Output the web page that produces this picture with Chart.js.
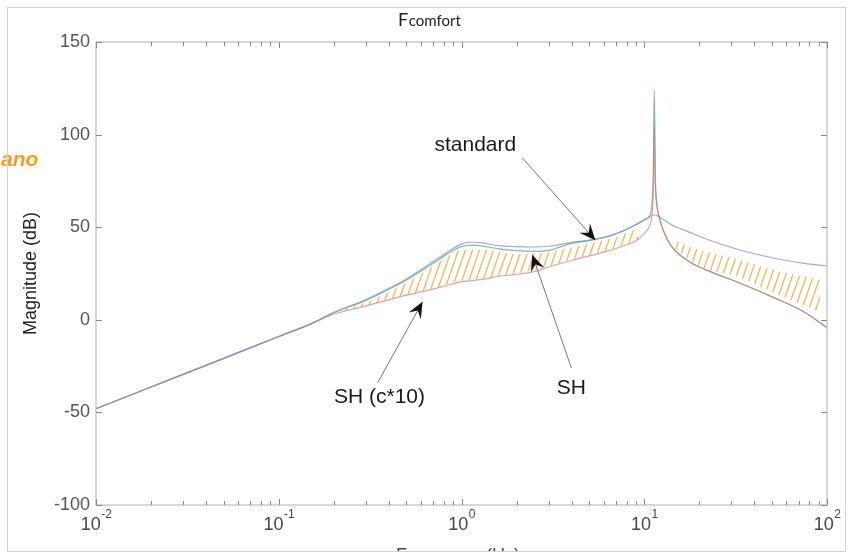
<!DOCTYPE html>
<html>
<head>
<meta charset="utf-8">
<script src="https://cdn.jsdelivr.net/npm/chart.js@4.4.1/dist/chart.umd.min.js"></script>
<style>
  html, body { margin: 0; padding: 0; background: #fff; }
  #wrap { width: 851px; height: 558px; }
</style>
</head>
<body>
<div id="wrap"><canvas id="c" width="851" height="558"></canvas></div>
<script>
// frequency points (Hz) shared by the three curves
const freq = [0.01, 0.02, 0.05, 0.1, 0.15, 0.2, 0.3, 0.4, 0.5, 0.7, 0.85, 1.0, 1.15, 1.3, 1.6, 2.0, 2.5, 3.0, 4.0, 5.0,
              6.0, 7.0, 8.0, 9.0, 10, 10.6, 11, 11.2, 11.35, 11.5, 11.7, 12.1, 12.8, 14, 17.5, 22, 33, 50, 75, 100];
const standardDb = [-48, -36.3, -20.8, -9, -2.2, 4, 11, 17, 22, 31.5, 37, 41, 42, 41.5, 40, 39.5, 39.3, 39.7, 41.8, 43,
                    44.5, 46.5, 49, 51.5, 54, 55.5, 56.3, 56.6, 56.7, 56.6, 56.4, 55.6, 54, 51.5, 47.5, 43.5, 37.8, 33.5, 30.5, 29];
const shDb = [-48, -36.3, -20.8, -9, -2.2, 3.8, 10.5, 16.5, 21.5, 30.5, 36, 39.5, 40.3, 39.8, 38.3, 37.3, 37, 37.5, 41.3, 42.8,
              44.3, 46.3, 48.8, 51.3, 53.8, 55.5, 62, 78, 124, 78, 64, 55, 47.5, 40, 31.6, 26.8, 20, 12.4, 4.2, -4.3];
const shC10Db = [-48, -36.3, -20.8, -9, -2.2, 3, 7.5, 10.8, 13.3, 16.6, 18.8, 20.5, 21.2, 21.8, 23.5, 24.5, 26, 28.5, 32, 34.5,
                 36.5, 38.5, 40.5, 42.5, 46.5, 50, 56, 68, 105, 72, 62, 55, 47.5, 40, 31.6, 26.8, 20, 12.4, 4.2, -4.3];

// hand-drawn hatching (two zones)
const hatchFreqL = [0.23, 0.3, 0.4, 0.5, 0.7, 1.0, 1.3, 2.0, 3.0, 4.0, 5.0, 6.0, 7.0, 8.0, 9.3];
const hatchTopL  = [6, 9.5, 15, 20, 29, 37.5, 38, 35.5, 36.5, 39, 41.5, 43, 44.5, 47, 49.5];
const hatchBotL  = [5, 7.5, 11, 13.5, 17, 21, 22.3, 25, 29, 32.5, 35, 37, 39, 41, 43.5];
const hatchFreqR = [14.5, 20, 33, 50, 70, 92];
const hatchTopR  = [43, 38, 32.5, 27, 24, 21.5];
const hatchBotR  = [39, 29, 23, 15, 9, 4];

// axes
const yTicks = [-100, -50, 0, 50, 100, 150];
const xDecades = [-2, -1, 0, 1, 2];
const xMinorMult = [2, 3, 4, 5, 6, 7, 8, 9];

// annotations: label, text position, arrow tail, arrow tip (Hz, dB)
const annLabels = ['standard', 'SH', 'SH (c*10)'];
const annTextF  = [1.19, 3.99, 0.356];
const annTextDb = [94.5, -36.7, -41.6];
const annTailF  = [2.15, 3.99, 0.3475];
const annTailDb = [87.5, -25.9, -34];
const annTipF   = [5.4, 2.44, 0.612];
const annTipDb  = [43.0, 35.1, 9.7];

const FONT = '"Liberation Sans", Arial, sans-serif';

function pts(xs, ys) { return xs.map((f, i) => ({ x: f, y: ys[i] })); }

const canvas = document.getElementById('c');
const mainCtx = canvas.getContext('2d');

function makeHatch() {
    const c = document.createElement('canvas');
    c.width = 7; c.height = 20;
    const g = c.getContext('2d');
    g.strokeStyle = 'rgba(240,160,40,0.78)';
    g.lineWidth = 1.3;
    [-7, 0, 7].forEach(dx => {
        g.beginPath(); g.moveTo(dx, 20); g.lineTo(dx + 7, 0); g.stroke();
    });
    return mainCtx.createPattern(c, 'repeat');
}
const hatch = makeHatch();

const decor = {
    id: 'decor',
    beforeDraw(chart) {
        const ctx = chart.ctx;
        ctx.save();
        ctx.fillStyle = '#fff';
        ctx.fillRect(0, 0, chart.width, chart.height);
        ctx.restore();
    },
    afterDraw(chart) {
        const { ctx, chartArea: a, scales: { x, y } } = chart;
        ctx.save();

        // plot box
        ctx.strokeStyle = '#bcbcbc';
        ctx.lineWidth = 1.2;
        ctx.strokeRect(a.left, a.top, a.right - a.left, a.bottom - a.top);

        // inward tick marks
        ctx.strokeStyle = '#888';
        ctx.lineWidth = 1;
        yTicks.forEach(v => {
            const py = Math.round(y.getPixelForValue(v)) + 0.5;
            ctx.beginPath();
            ctx.moveTo(a.left, py); ctx.lineTo(a.left + 6, py);
            ctx.moveTo(a.right, py); ctx.lineTo(a.right - 6, py);
            ctx.stroke();
        });
        xDecades.forEach((d, i) => {
            const mults = i < xDecades.length - 1 ? [1].concat(xMinorMult) : [1];
            mults.forEach(m => {
                const px = Math.round(x.getPixelForValue(m * Math.pow(10, d))) + 0.5;
                const len = m === 1 ? 6 : 4;
                ctx.beginPath();
                ctx.moveTo(px, a.bottom); ctx.lineTo(px, a.bottom - len);
                ctx.moveTo(px, a.top); ctx.lineTo(px, a.top + len);
                ctx.stroke();
            });
        });

        // x tick labels 10^n
        ctx.fillStyle = '#444';
        ctx.textBaseline = 'alphabetic';
        ctx.textAlign = 'left';
        xDecades.forEach(d => {
            const px = x.getPixelForValue(Math.pow(10, d));
            ctx.font = '18px ' + FONT;
            const w1 = ctx.measureText('10').width;
            ctx.font = '12px ' + FONT;
            const w2 = ctx.measureText(String(d)).width;
            const x0 = px - (w1 + w2) / 2;
            ctx.font = '18px ' + FONT;
            ctx.fillText('10', x0, 530);
            ctx.font = '12px ' + FONT;
            ctx.fillText(String(d), x0 + w1 + 0.5, 518);
        });

        // y axis title
        ctx.save();
        ctx.translate(36, (a.top + a.bottom) / 2);
        ctx.rotate(-Math.PI / 2);
        ctx.textAlign = 'center';
        ctx.fillStyle = '#222';
        ctx.font = '18px ' + FONT;
        ctx.fillText('Magnitude (dB)', 0, 0);
        ctx.restore();

        // x axis title, cut by the picture edge
        ctx.save();
        ctx.beginPath();
        ctx.rect(0, 0, chart.width, 551);
        ctx.clip();
        ctx.textAlign = 'center';
        ctx.fillStyle = '#444';
        ctx.font = '18px ' + FONT;
        ctx.fillText('Frequency (Hz)', 458, 561);
        ctx.restore();

        // title F_comfort
        ctx.fillStyle = '#222';
        ctx.textAlign = 'left';
        ctx.font = '18px Lato, ' + FONT;
        ctx.fillText('F', 398, 26);
        const wf = ctx.measureText('F').width;
        ctx.font = '15px Lato, ' + FONT;
        ctx.fillText('comfort', 398 + wf + 0.5, 26);

        // orange scribble
        ctx.fillStyle = '#f0a01c';
        ctx.font = 'bold italic 21px ' + FONT;
        ctx.fillText('ano', 1, 166);

        // annotations with arrows
        annLabels.forEach((lbl, i) => {
            const tx = x.getPixelForValue(annTextF[i]);
            const ty = y.getPixelForValue(annTextDb[i]);
            const sx = x.getPixelForValue(annTailF[i]);
            const sy = y.getPixelForValue(annTailDb[i]);
            const ex = x.getPixelForValue(annTipF[i]);
            const ey = y.getPixelForValue(annTipDb[i]);
            ctx.strokeStyle = '#777';
            ctx.lineWidth = 1;
            ctx.beginPath(); ctx.moveTo(sx, sy); ctx.lineTo(ex, ey); ctx.stroke();
            const len = Math.hypot(ex - sx, ey - sy);
            const ux = (ex - sx) / len, uy = (ey - sy) / len;
            const nx = -uy, ny = ux;
            const L = 16, W = 7;
            ctx.fillStyle = '#111';
            ctx.beginPath();
            ctx.moveTo(ex, ey);
            ctx.lineTo(ex - L * ux + W * nx, ey - L * uy + W * ny);
            ctx.lineTo(ex - 0.62 * L * ux, ey - 0.62 * L * uy);
            ctx.lineTo(ex - L * ux - W * nx, ey - L * uy - W * ny);
            ctx.closePath();
            ctx.fill();
            ctx.fillStyle = '#1a1a1a';
            ctx.font = '21px ' + FONT;
            ctx.textAlign = 'center';
            ctx.textBaseline = 'middle';
            ctx.fillText(lbl, tx, ty);
            ctx.textBaseline = 'alphabetic';
        });

        // outer frame of the picture
        ctx.strokeStyle = '#d2d2d2';
        ctx.lineWidth = 1;
        ctx.strokeRect(7.5, 7.5, 838, 544);
        ctx.restore();
    }
};

const lineStyle = { pointRadius: 0, borderWidth: 1.2, fill: false, cubicInterpolationMode: 'monotone' };

new Chart(canvas, {
    type: 'line',
    data: {
        datasets: [
            Object.assign({ label: 'standard', data: pts(freq, standardDb), borderColor: 'rgba(125,140,225,0.75)' }, lineStyle),
            Object.assign({ label: 'SH (c*10)', data: pts(freq, shC10Db), borderColor: 'rgba(215,110,115,0.65)' }, lineStyle),
            Object.assign({ label: 'SH', data: pts(freq, shDb), borderColor: 'rgba(95,175,125,0.8)' }, lineStyle),
            { label: 'hatchTopL', data: pts(hatchFreqL, hatchTopL), borderWidth: 0, borderColor: 'rgba(0,0,0,0)', pointRadius: 0, backgroundColor: hatch, fill: '+1', cubicInterpolationMode: 'monotone' },
            { label: 'hatchBotL', data: pts(hatchFreqL, hatchBotL), borderWidth: 0, borderColor: 'rgba(0,0,0,0)', pointRadius: 0, fill: false, cubicInterpolationMode: 'monotone' },
            { label: 'hatchTopR', data: pts(hatchFreqR, hatchTopR), borderWidth: 0, borderColor: 'rgba(0,0,0,0)', pointRadius: 0, backgroundColor: hatch, fill: '+1', cubicInterpolationMode: 'monotone' },
            { label: 'hatchBotR', data: pts(hatchFreqR, hatchBotR), borderWidth: 0, borderColor: 'rgba(0,0,0,0)', pointRadius: 0, fill: false, cubicInterpolationMode: 'monotone' }
        ]
    },
    options: {
        responsive: false,
        devicePixelRatio: 1,
        animation: false,
        layout: { padding: { top: 42, right: 24, left: 0, bottom: 0 } },
        scales: {
            x: {
                type: 'logarithmic', min: 0.01, max: 100,
                grid: { display: false, drawTicks: false },
                border: { display: false },
                ticks: { display: false },
                afterFit: s => { s.height = 53; }
            },
            y: {
                min: -100, max: 150,
                afterBuildTicks: s => { s.ticks = yTicks.map(v => ({ value: v })); },
                ticks: { color: '#555', font: { size: 18, family: FONT }, padding: 6 },
                grid: { display: false, drawTicks: false },
                border: { display: false },
                afterFit: s => { s.width = 96; }
            }
        },
        plugins: { legend: { display: false }, tooltip: { enabled: false } }
    },
    plugins: [decor]
});
</script>
</body>
</html>
